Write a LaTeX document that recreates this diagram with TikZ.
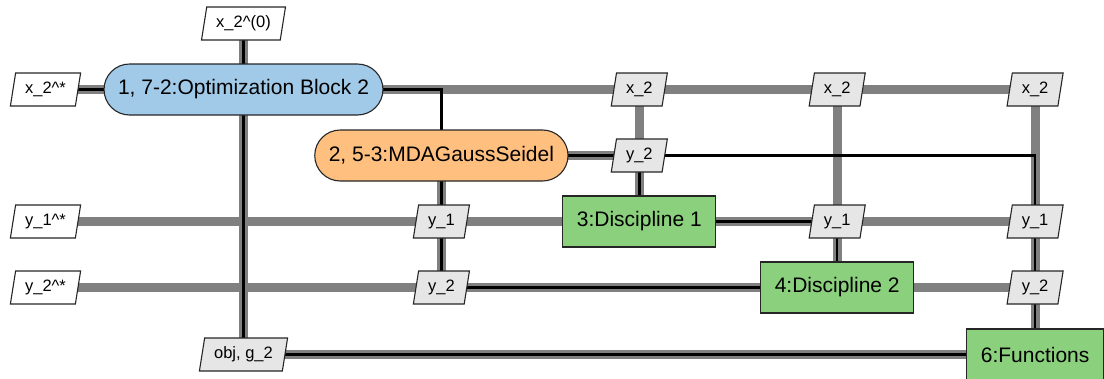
\documentclass[tikz,border=0pt]{standalone}
\usepackage{fontspec}
\setmainfont{Liberation Sans}
\usetikzlibrary{shapes.geometric}

\pgfdeclarelayer{datalines}
\pgfdeclarelayer{proclines}
\pgfsetlayers{datalines,proclines,main}

\definecolor{optblue}{RGB}{161,201,232}
\definecolor{mdaorange}{RGB}{255,191,127}
\definecolor{discgreen}{RGB}{139,209,125}
\definecolor{datagray}{RGB}{230,230,230}
\definecolor{linegray}{RGB}{128,128,128}

\begin{document}
\begin{tikzpicture}[x=1pt, y=-1pt,
    block/.style={draw=black!85, line width=1.1pt, minimum height=51pt, inner xsep=14pt,
        font=\fontsize{21}{25}\selectfont},
    optblock/.style={block, fill=optblue, rounded corners=25.5pt},
    mdablock/.style={block, fill=mdaorange, rounded corners=25.5pt},
    discblock/.style={block, fill=discgreen},
    datablock/.style={trapezium, trapezium left angle=81, trapezium right angle=99,
        draw=black!85, line width=1.1pt, fill=datagray, text height=12pt, text depth=4pt,
        inner xsep=9.5pt, inner ysep=8.5pt, font=\fontsize{16.5}{19}\selectfont},
    inblock/.style={datablock, fill=white},
    dataline/.style={linegray, line width=9pt},
    procline/.style={black, line width=2.5pt}]

        \useasboundingbox (0,0) rectangle (1104,378);

        % process blocks
        \node[optblock] (opt) at (243.5,89.5) {1, 7-2:Optimization Block 2};
        \node[mdablock] (mda) at (441.4,155.5) {2, 5-3:MDAGaussSeidel};
        \node[discblock] (d1) at (639.3,221.5) {3:Discipline 1};
        \node[discblock] (d2) at (837.2,287.5) {4:Discipline 2};
        \node[discblock] (fn) at (1035.1,354.5) {6:Functions};

        % inputs
        \node[inblock] (x20) at (243.5,23.5) {x\_2\textasciicircum(0)};
        \node[inblock] (x2s) at (45.5,89.5) {x\_2\textasciicircum*};
        \node[inblock] (y1s) at (45.5,221.5) {y\_1\textasciicircum*};
        \node[inblock] (y2s) at (45.5,287.5) {y\_2\textasciicircum*};

        % exchanged data
        \node[datablock] (x2a) at (639.3,89.5) {x\_2};
        \node[datablock] (x2b) at (837.2,89.5) {x\_2};
        \node[datablock] (x2c) at (1035.1,89.5) {x\_2};
        \node[datablock] (y2m) at (639.3,155.5) {y\_2};
        \node[datablock] (y1a) at (441.4,221.5) {y\_1};
        \node[datablock] (y1b) at (837.2,221.5) {y\_1};
        \node[datablock] (y1c) at (1035.1,221.5) {y\_1};
        \node[datablock] (y2a) at (441.4,287.5) {y\_2};
        \node[datablock] (y2c) at (1035.1,287.5) {y\_2};
        \node[datablock] (objg) at (243.5,354.5) {obj, g\_2};

        \begin{pgfonlayer}{datalines}
        \draw[dataline] (x20.center) -- (opt.center);
        \draw[dataline] (x2s.center) -- (opt.center);
        \draw[dataline] (opt.center) -- (x2c.center);
        \draw[dataline] (x2a.center) -- (d1.center);
        \draw[dataline] (x2b.center) -- (d2.center);
        \draw[dataline] (x2c.center) -- (fn.center);
        \draw[dataline] (mda.center) -- (y2m.center);
        \draw[dataline] (mda.center) -- (y2a.center);
        \draw[dataline] (y1s.center) -- (d1.center);
        \draw[dataline] (d1.center) -- (y1c.center);
        \draw[dataline] (y2s.center) -- (d2.center);
        \draw[dataline] (d2.center) -- (y2c.center);
        \draw[dataline] (opt.center) -- (objg.center);
        \draw[dataline] (objg.center) -- (fn.center);
        \end{pgfonlayer}

        \begin{pgfonlayer}{proclines}
        \draw[procline] (x20.center) -- (opt.center);
        \draw[procline] (x2s.center) -- (opt.center);
        \draw[procline] (opt.center) -| (mda.center);
        \draw[procline] (mda.center) -- (y2m.center) -- (d1.center);
        \draw[procline] (y2m.center) -| (fn.center);
        \draw[procline] (d1.center) -- (y1b.center) -- (d2.center);
        \draw[procline] (d2.center) -- (y2a.center) -- (mda.center);
        \draw[procline] (fn.center) -- (objg.center) -- (opt.center);
        \end{pgfonlayer}
    \end{tikzpicture}
\end{document}
